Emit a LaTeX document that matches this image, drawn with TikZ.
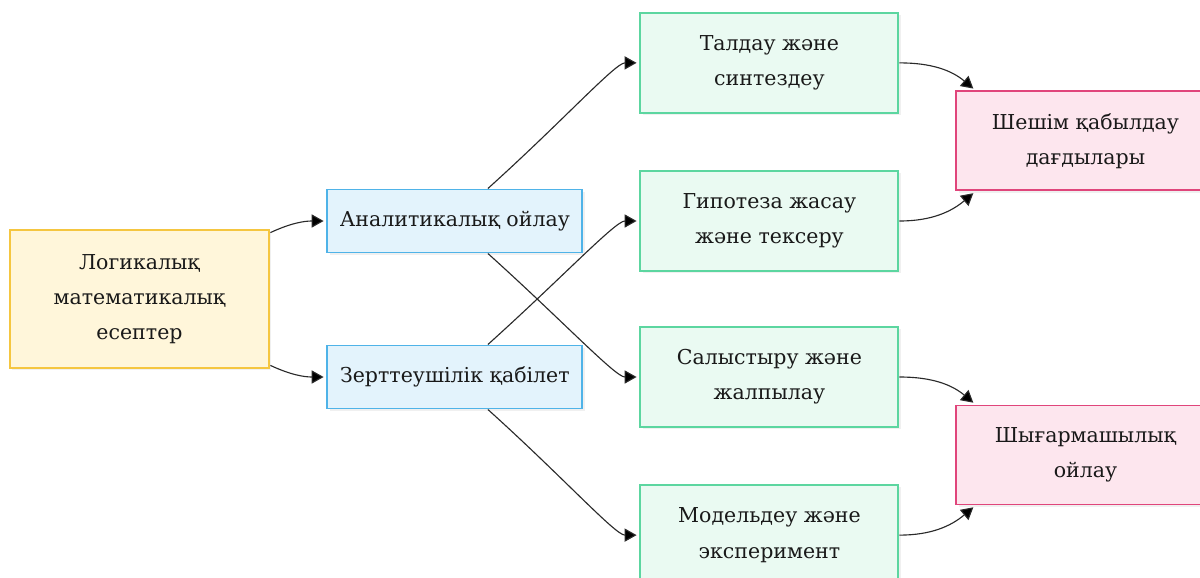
\documentclass[tikz,border=0pt]{standalone}
\usepackage{fontspec}
\setmainfont{DejaVu Serif}
\usepackage{tikz}
\usetikzlibrary{positioning, shapes, arrows.meta, shadows}
\definecolor{srcfill}{HTML}{FFF6DA}
\definecolor{srcdraw}{HTML}{F5C640}
\definecolor{midfill}{HTML}{E3F3FC}
\definecolor{middraw}{HTML}{4FB3E8}
\definecolor{skillfill}{HTML}{EAFAF2}
\definecolor{skilldraw}{HTML}{5CD6A0}
\definecolor{goalfill}{HTML}{FDE6EE}
\definecolor{goaldraw}{HTML}{E0457B}
\definecolor{linkgray}{HTML}{2A2A2A}
\tikzstyle{base} = [rectangle, text centered, align=center, text=black!90, font=\rmfamily\fontsize{14.6}{25}\selectfont, drop shadow={opacity=0.12, shadow xshift=1.5pt, shadow yshift=-1.5pt}]
\tikzstyle{source} = [base, minimum width=6.475cm, minimum height=3.45cm, draw=srcdraw, line width=2pt, fill=srcfill]
\tikzstyle{ability} = [base, minimum width=6.375cm, minimum height=1.575cm, draw=middraw, line width=1.4pt, fill=midfill]
\tikzstyle{skill} = [base, minimum width=6.45cm, minimum height=2.5cm, draw=skilldraw, line width=1.5pt, fill=skillfill]
\tikzstyle{goal} = [base, minimum width=6.45cm, minimum height=2.475cm, draw=goaldraw, line width=1.4pt, fill=goalfill]
\tikzstyle{arrow} = [line width=0.8pt, draw=linkgray, shorten >=2pt, -{Triangle[length=0.3cm, width=0.33cm, fill=black]}]

\begin{document}
\begin{tikzpicture}[node distance=1.4cm]
        \useasboundingbox (-3.4875,-6.95) rectangle (26.5125,7.475);

        % Source
        \node (logic) [source] {Логикалық\\математикалық\\есептер};

        % Abilities
        \node (analytic) [ability, right=of logic, yshift=1.95cm] {Аналитикалық ойлау};
        \node (research) [ability, right=of logic, yshift=-1.95cm] {Зерттеушілік қабілет};

        % Skills
        \node (hypo) [skill, right=of analytic] {Гипотеза жасау\\жəне тексеру};
        \node (synth) [skill, above=of hypo] {Талдау жəне\\синтездеу};
        \node (compare) [skill, right=of research] {Салыстыру жəне\\жалпылау};
        \node (model) [skill, below=of compare] {Модельдеу жəне\\эксперимент};

        % Outcomes
        \node (decide) [goal, right=of synth, yshift=-1.95cm] {Шешім қабылдау\\дағдылары};
        \node (create) [goal, right=of compare, yshift=-1.95cm] {Шығармашылық\\ойлау};

        % Arrows
        \draw [arrow] ([yshift=-0.1cm]logic.north east) to[out=25, in=180] (analytic.west);
        \draw [arrow] ([yshift=0.1cm]logic.south east) to[out=-25, in=180] (research.west);

        \draw [arrow] ([xshift=0.825cm]analytic.north) .. controls +(42:2.5cm) and +(-0.6cm,0) .. (synth.west);
        \draw [arrow] ([xshift=0.825cm]analytic.south) .. controls +(-42:2.5cm) and +(-0.6cm,0) .. (compare.west);
        \draw [arrow] ([xshift=0.825cm]research.north) .. controls +(42:2.5cm) and +(-0.6cm,0) .. (hypo.west);
        \draw [arrow] ([xshift=0.825cm]research.south) .. controls +(-42:2.5cm) and +(-0.6cm,0) .. (model.west);

        \draw [arrow] (synth.east) to[out=0, in=140] ([xshift=0.5cm]decide.north west);
        \draw [arrow] (hypo.east) to[out=0, in=220] ([xshift=0.5cm]decide.south west);
        \draw [arrow] (compare.east) to[out=0, in=140] ([xshift=0.5cm]create.north west);
        \draw [arrow] (model.east) to[out=0, in=220] ([xshift=0.5cm]create.south west);

    \end{tikzpicture}
\end{document}
